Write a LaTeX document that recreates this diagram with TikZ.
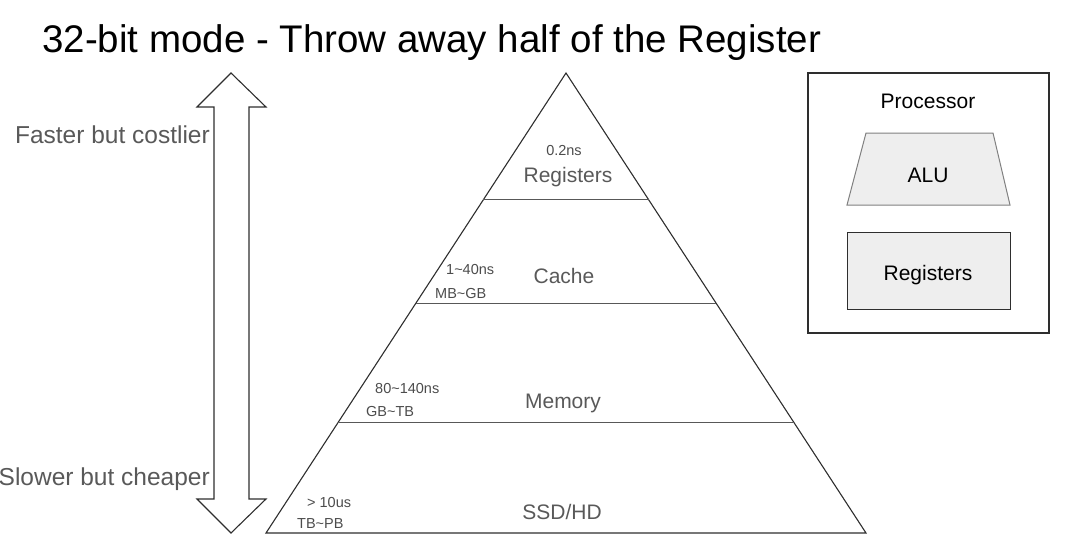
\documentclass[tikz,border=0pt]{standalone}
\usepackage{fontspec}
\setmainfont{Liberation Sans}
\usepackage{xcolor}
\usepackage{tikz}
\usetikzlibrary{calc}

\definecolor{txtgray}{HTML}{595959}
\definecolor{linegray}{HTML}{2E2E2E}
\definecolor{boxfill}{HTML}{EEEEEE}
\newcommand{\tld}{\char`\~}

\begin{document}
\begin{tikzpicture}[x=1pt, y=-1pt]
	\useasboundingbox (0,0) rectangle (1080,560);
	
	\node[anchor=base west, inner sep=0, font=\fontsize{38.5}{40}\selectfont] (T) at (42,52) {32-bit mode - Throw away half of the Register};
	
	% speed / cost arrow
	\draw[linegray, line width=1.1pt] (231,73) -- (266,107) -- (249,107) -- (249,499) -- (266,499) -- (231,533) -- (197,499) -- (214,499) -- (214,107) -- (197,107) -- cycle;
	\node[anchor=base east, inner sep=0, txtgray, font=\fontsize{24.5}{26}\selectfont] (F) at (210,143) {Faster but costlier};
	\node[anchor=base east, inner sep=0, txtgray, font=\fontsize{24.5}{26}\selectfont] (S) at (210,485) {Slower but cheaper};
	
	% pyramid
	\coordinate (A) at (566,73);
	\coordinate (BL) at (266,533);
	\coordinate (BR) at (866,533);
	\draw[linegray, line width=1.1pt] (A) -- (BL) -- (BR) -- cycle;
	\foreach \f in {0.276, 0.5, 0.76}
		\draw[linegray!80, line width=1pt] ($(A)!\f!(BL)$) -- ($(A)!\f!(BR)$);
	
	\begin{scope}[
		big/.style={anchor=base, inner sep=0, txtgray, font=\fontsize{21}{22}\selectfont},
		small/.style={anchor=base west, inner sep=0, txtgray!85!black, font=\fontsize{14.5}{15}\selectfont}]
		\node[big] (L1) at (568,182) {Registers};
		\node[big] (L2) at (564,283) {Cache};
		\node[big] (L3) at (563,408) {Memory};
		\node[big] (L4) at (562,519) {SSD/HD};
		
		\node[small, anchor=base] (T1) at (564,155) {0.2ns};
		\node[small] (T2) at (446,274) {1\tld 40ns};
		\node[small] (S2) at (435,298) {MB\tld GB};
		\node[small] (T3) at (375,393) {80\tld 140ns};
		\node[small] (S3) at (366,416) {GB\tld TB};
		\node[small] (T4) at (307,507) {> 10us};
		\node[small] (S4) at (297,528) {TB\tld PB};
	\end{scope}
	
	% processor
	\draw[linegray, line width=1.1pt] (808,73) rectangle (1049,333);
	\node[anchor=base, inner sep=0, font=\fontsize{21}{22}\selectfont] (P) at (928,108) {Processor};
	\draw[fill=boxfill, draw=gray, line width=1pt] (866,133) -- (993,133) -- (1010,205) -- (847,205) -- cycle;
	\node[anchor=base, inner sep=0, font=\fontsize{21}{22}\selectfont] (ALU) at (928,182) {ALU};
	\draw[fill=boxfill, draw=linegray, line width=1pt] (847,232) rectangle (1010,309);
	\node[anchor=base, inner sep=0, font=\fontsize{21}{22}\selectfont] (R) at (928,280) {Registers};
\end{tikzpicture}
\end{document}
